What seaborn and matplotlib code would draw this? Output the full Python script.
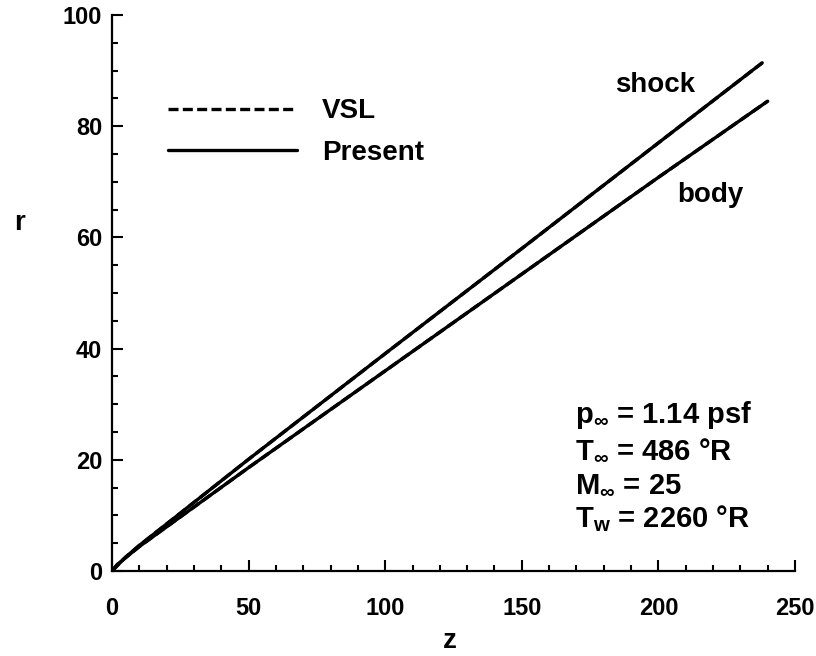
import pandas as pd
import matplotlib
matplotlib.use("Agg")
import matplotlib.pyplot as plt
from matplotlib.ticker import MultipleLocator
import seaborn as sns

# Values (z, r)
shock_z = [0, 5, 10, 25, 50, 100, 150, 200, 238]
shock_r = [0, 2.5, 4.6, 10.4, 20.1, 39.1, 58.0, 77.0, 91.4]
body_z = [0, 2, 10, 50, 100, 150, 200, 240]
body_r = [0, 1.2, 4.4, 18.6, 36.0, 53.4, 70.8, 84.5]

methods = ["VSL", "Present"]
conditions = [r"p$_{\infty}$ = 1.14 psf", r"T$_{\infty}$ = 486 °R",
              r"M$_{\infty}$ = 25", r"T$_{w}$ = 2260 °R"]

# Long-form table; VSL coincides with the present solution
rows = []
for m in methods:
    for z, r in zip(shock_z, shock_r):
        rows.append({"z": z, "r": r, "curve": "shock", "method": m})
    for z, r in zip(body_z, body_r):
        rows.append({"z": z, "r": r, "curve": "body", "method": m})
df = pd.DataFrame(rows)

sns.set_style("ticks")
plt.rcParams["font.family"] = ["Liberation Sans", "DejaVu Sans"]
plt.rcParams["font.weight"] = "bold"
plt.rcParams["text.color"] = "black"
plt.rcParams["axes.labelcolor"] = "black"
plt.rcParams["xtick.color"] = "black"
plt.rcParams["ytick.color"] = "black"
plt.rcParams["mathtext.fontset"] = "custom"
plt.rcParams["mathtext.rm"] = "Liberation Sans:bold"
plt.rcParams["mathtext.it"] = "Liberation Sans:bold"
plt.rcParams["mathtext.bf"] = "Liberation Sans:bold"

fig = plt.figure(figsize=(8.16, 6.56), dpi=100)
ax = fig.add_axes([112 / 816, 85 / 656, 683 / 816, 556 / 656])

sns.lineplot(data=df, x="z", y="r", style="method", style_order=methods,
             units="curve", estimator=None, sort=False, color="black",
             dashes={"VSL": (3, 1.3), "Present": ""}, linewidth=2.4, ax=ax)

ax.set_xlim(0, 250)
ax.set_ylim(0, 100)
ax.xaxis.set_major_locator(MultipleLocator(50))
ax.xaxis.set_minor_locator(MultipleLocator(10))
ax.yaxis.set_major_locator(MultipleLocator(20))
ax.yaxis.set_minor_locator(MultipleLocator(5))
ax.tick_params(which="both", direction="in", width=1.5, color="black")
ax.tick_params(which="major", length=8)
ax.tick_params(which="minor", length=4)
ax.tick_params(axis="x", which="major", pad=19, labelsize=17)
ax.tick_params(axis="y", which="major", pad=7, labelsize=17)
for lab in ax.get_xticklabels() + ax.get_yticklabels():
    lab.set_fontweight("bold")
sns.despine(ax=ax)
for s in ["left", "bottom"]:
    ax.spines[s].set_linewidth(1.6)
    ax.spines[s].set_color("black")

ax.set_xlabel("z", fontsize=20, fontweight="bold")
ax.set_ylabel("r", fontsize=20, fontweight="bold", rotation=0)
ax.xaxis.set_label_coords(0.495, -0.125)
ax.yaxis.set_label_coords(-0.135, 0.626)
ax.xaxis.label.set_verticalalignment("center")
ax.yaxis.label.set_verticalalignment("center")

handles, labels = ax.get_legend_handles_labels()
leg = ax.legend(handles, labels, loc="upper left", bbox_to_anchor=(0.082, 0.85),
                frameon=False, fontsize=20, handlelength=4.65,
                handletextpad=0.9, labelspacing=0.55, borderpad=0,
                borderaxespad=0)
for t in leg.get_texts():
    t.set_fontweight("bold")
for ln in leg.get_lines():
    ln.set_linewidth(2.4)
    ln.set_color("black")

ax.text(184.1, 86.2, "shock", fontsize=20, fontweight="bold")
ax.text(206.8, 66.4, "body", fontsize=20, fontweight="bold")

for txt, yb in zip(conditions, [26.6, 20.3, 14.2, 7.9]):
    ax.text(169.5, yb, txt, fontsize=21, fontweight="bold", va="baseline")

fig.savefig("out.png", dpi=100)
